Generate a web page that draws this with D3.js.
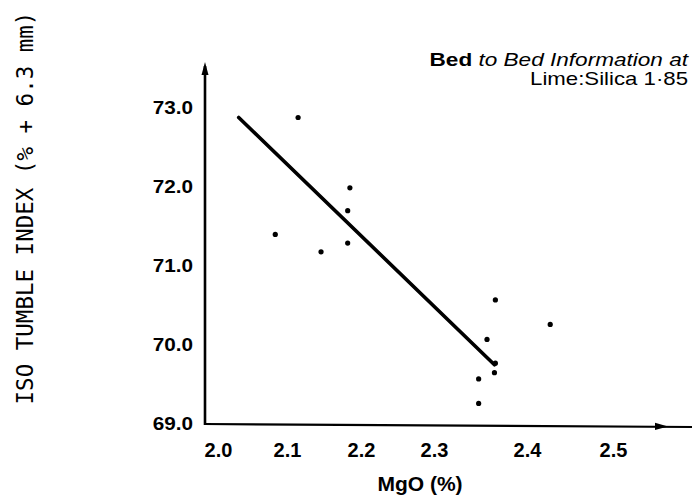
<!DOCTYPE html>
<html><head><meta charset="utf-8">
<script src="https://cdn.jsdelivr.net/npm/d3@7"></script>
<style>body{margin:0;background:#fff}svg{display:block}</style>
</head><body><svg id="c" width="699" height="498"></svg>
<script>
// ---- data ----
const mgo    = [2.115, 2.185, 2.182, 2.083, 2.182, 2.146, 2.366, 2.427, 2.357, 2.366, 2.365, 2.348, 2.348];
const tumble = [72.88, 71.99, 71.70, 71.40, 71.29, 71.18, 70.57, 70.26, 70.07, 69.77, 69.65, 69.57, 69.26];
const fitMgo    = [2.03, 2.365];
const fitTumble = [72.88, 69.75];
const xTicks = [2.0, 2.1, 2.2, 2.3, 2.4, 2.5];
const yTicks = [69, 70, 71, 72, 73];
const xTitle = "MgO (%)";
const yTitle = "ISO TUMBLE INDEX (% + 6.3 mm)";
const note = ["Bed to Bed Information at", "Lime:Silica 1·85"];

// ---- drawing ----
const svg = d3.select("#c");
const ink = "#000";
// hand-drawn original: tick spacing is uneven, so a piecewise linear scale
const x = d3.scaleLinear().domain(xTicks).range([218, 287, 361, 434, 527, 613]);
const y = d3.scaleLinear().domain([69, 73]).range([424, 108]);

const axisX0 = 205, axisX1 = 692, axisYTop = 62, axisYBase = y(69);

function stretch(sel, f) {
  sel.each(function () {
    const L = this.getComputedTextLength();
    d3.select(this).attr("textLength", L * f).attr("lengthAdjust", "spacingAndGlyphs");
  });
}

// axis lines
svg.append("line").attr("x1", axisX0).attr("x2", axisX0).attr("y1", axisYBase + 1).attr("y2", axisYTop + 4)
  .attr("stroke", ink).attr("stroke-width", 2.6);
svg.append("path").attr("d", `M${axisX0},${axisYTop} L${axisX0 - 3.5},${axisYTop + 13} L${axisX0 + 3.5},${axisYTop + 13} Z`)
  .attr("fill", ink);
svg.append("line").attr("x1", axisX0 - 1).attr("x2", axisX1).attr("y1", axisYBase).attr("y2", axisYBase + 3)
  .attr("stroke", ink).attr("stroke-width", 2.2);
svg.append("path").attr("d", `M668,${axisYBase + 2.6} L655,${axisYBase - 1.2} L655,${axisYBase + 6} Z`).attr("fill", ink);

// axes (labels only)
const gx = svg.append("g").attr("transform", `translate(0,${axisYBase})`)
  .call(d3.axisBottom(x).tickValues(xTicks).tickSize(0).tickPadding(19).tickFormat(d3.format(".1f")));
gx.select(".domain").remove();
gx.selectAll("text").attr("font-family", "Liberation Sans, Arial, sans-serif")
  .attr("font-size", 20).attr("font-weight", "bold").attr("fill", ink);

const gy = svg.append("g").attr("transform", `translate(${axisX0},0)`)
  .call(d3.axisLeft(y).tickValues(yTicks).tickSize(0).tickPadding(12).tickFormat(d3.format(".1f")));
gy.select(".domain").remove();
gy.selectAll("text").attr("font-family", "Liberation Sans, Arial, sans-serif")
  .attr("font-size", 18).attr("font-weight", "bold").attr("fill", ink).call(stretch, 1.15);

// axis titles
svg.append("text").attr("x", 420).attr("y", 491).attr("text-anchor", "middle")
  .attr("font-family", "Liberation Sans, Arial, sans-serif").attr("font-size", 21).attr("font-weight", "bold")
  .attr("fill", ink).text(xTitle);

svg.append("text").attr("transform", "translate(33,208) rotate(-90)").attr("text-anchor", "middle")
  .attr("font-family", "DejaVu Sans Mono, Liberation Mono, monospace").attr("font-size", 22.5)
  .attr("fill", ink).text(yTitle);

// annotation
const n1 = svg.append("text").attr("x", 688).attr("y", 66).attr("text-anchor", "end")
  .attr("font-family", "Liberation Sans, Arial, sans-serif").attr("font-size", 18.5).attr("font-style", "italic")
  .attr("fill", ink);
n1.append("tspan").attr("font-weight", "bold").attr("font-style", "normal").text(note[0].slice(0, 3));
n1.append("tspan").text(note[0].slice(3));
stretch(n1, 1.22);
svg.append("text").attr("x", 688).attr("y", 85).attr("text-anchor", "end")
  .attr("font-family", "Liberation Sans, Arial, sans-serif").attr("font-size", 18.5)
  .attr("fill", ink).text(note[1]).call(stretch, 1.2);

// regression line
svg.append("path").datum(d3.zip(fitMgo, fitTumble))
  .attr("d", d3.line().x(d => x(d[0])).y(d => y(d[1])))
  .attr("fill", "none").attr("stroke", ink).attr("stroke-width", 3.6).attr("stroke-linecap", "round");

// points
svg.append("g").selectAll("circle").data(d3.zip(mgo, tumble)).join("circle")
  .attr("cx", d => x(d[0])).attr("cy", d => y(d[1])).attr("r", 2.6).attr("fill", ink);
</script>
</body></html>
